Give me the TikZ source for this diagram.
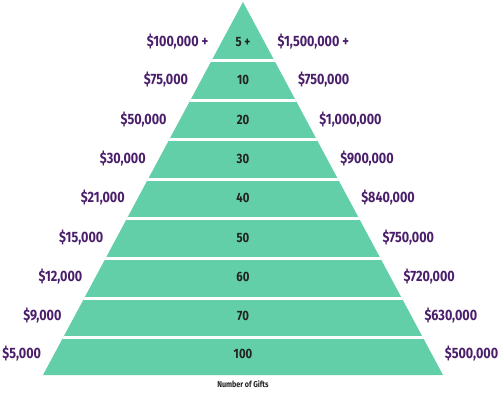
\documentclass[tikz,border=0pt]{standalone}
\usepackage{fontspec}
\setmainfont{Fira Sans}[FakeStretch=0.84]
\definecolor{bandgreen}{RGB}{99,207,169}
\definecolor{amtpurple}{RGB}{74,30,106}
\definecolor{numgray}{RGB}{34,34,34}
\tikzset{
  amount/.style={text=amtpurple,font=\bfseries\fontsize{15}{16}\selectfont,inner sep=0pt},
  count/.style={text=numgray,font=\bfseries\fontsize{13.5}{14}\selectfont,inner sep=0pt},
}
\begin{document}
\begin{tikzpicture}[x=1pt,y=1pt,yscale=-1,xscale=1]
\useasboundingbox (0,0) rectangle (500,395);

%Shape: Triangle
\fill [bandgreen] (243,2) -- (443,375) -- (43,375) -- cycle;
%Gaps between the bands
\begin{scope}
\clip (243,2) -- (443,375) -- (43,375) -- cycle;
\foreach \g in {61,100.5,140,179.5,219,258.5,298,337.5}
  \draw [white,line width=3] (0,\g) -- (500,\g);
\end{scope}

% Text Nodes
\foreach \i/\y/\left/\num/\right in {
  1/42/{\$100,000 +}/{5 +}/{\$1,500,000 +},
  2/80/{\$75,000}/10/{\$750,000},
  3/120/{\$50,000}/20/{\$1,000,000},
  4/159/{\$30,000}/30/{\$900,000},
  5/198/{\$21,000}/40/{\$840,000},
  6/238/{\$15,000}/50/{\$750,000},
  7/277/{\$12,000}/60/{\$720,000},
  8/316/{\$9,000}/70/{\$630,000},
  9/354/{\$5,000}/100/{\$500,000}}{
  \node [count] (n\i) at (243,\y) {\num};
  \node [amount,anchor=east] (l\i) at ({243-0.5362*(\y-2)-13},\y) {\left};
  \node [amount,anchor=west] (r\i) at ({243+0.5362*(\y-2)+13},\y) {\right};
}
\node [text=numgray,font=\bfseries\fontsize{8.5}{9}\selectfont,inner sep=0pt] (gifts) at (243,384) {Number of Gifts};
\end{tikzpicture}
\end{document}
